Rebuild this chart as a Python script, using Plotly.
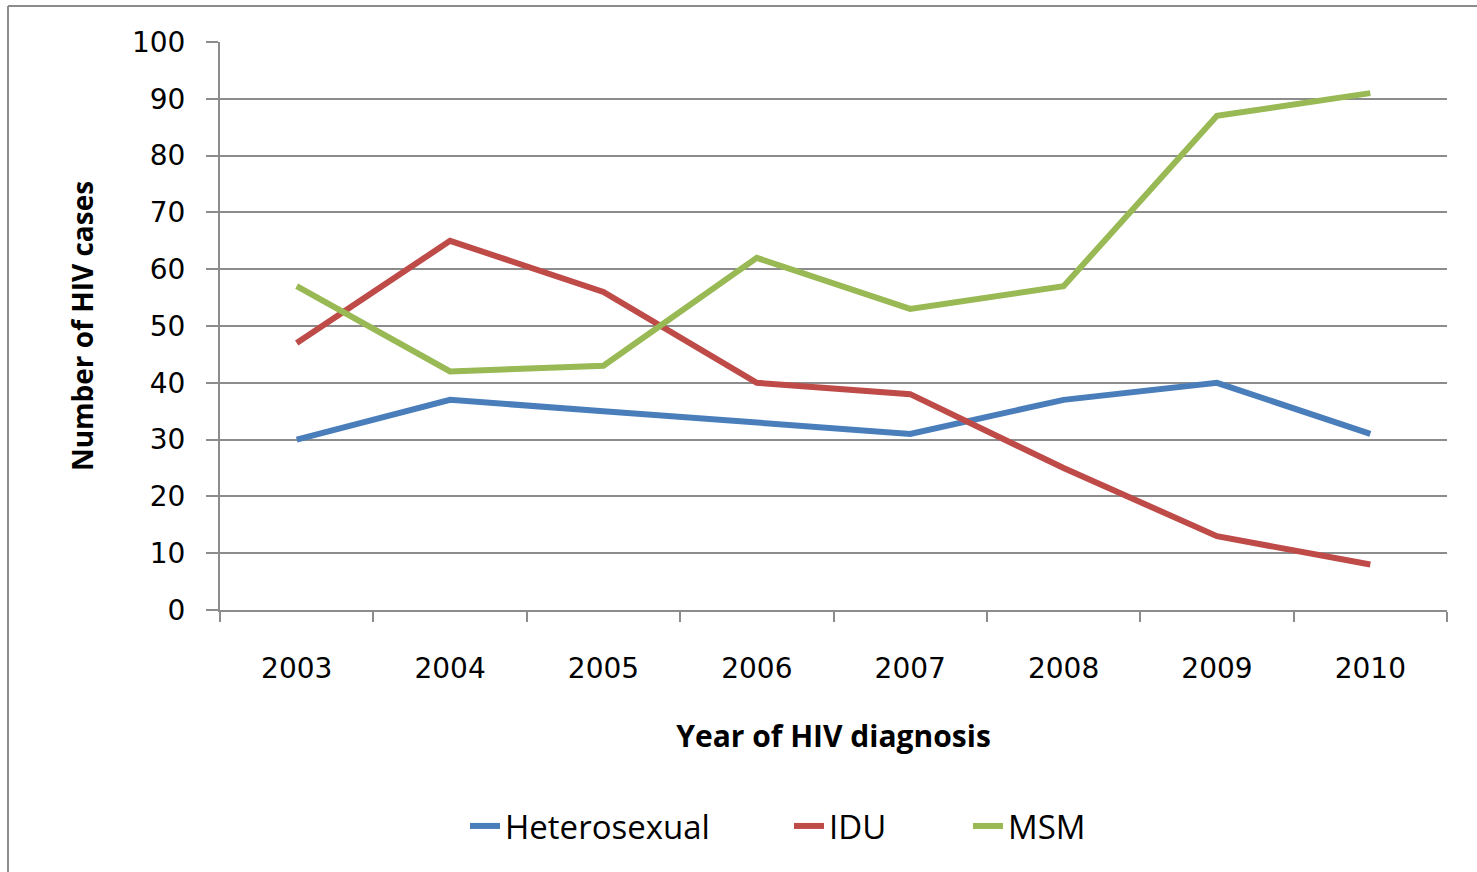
import plotly.graph_objects as go

years = ["2003", "2004", "2005", "2006", "2007", "2008", "2009", "2010"]
heterosexual = [30, 37, 35, 33, 31, 37, 40, 31]
idu = [47, 65, 56, 40, 38, 25, 13, 8]
msm = [57, 42, 43, 62, 53, 57, 87, 91]
y_ticks = list(range(0, 101, 10))

W, H = 1477, 872
L, R, T, B = 220, 30, 42, 262
pw, ph = W - L - R, H - T - B

def px(x):
    return (x - L) / pw

def py(y):
    return (H - B - y) / ph

fig = go.Figure()
series = [("Heterosexual", heterosexual, "#4A7EBB", "legend", 505),
          ("IDU", idu, "#BE4B48", "legend2", 829),
          ("MSM", msm, "#98B954", "legend3", 1008)]
legends = {}
for name, vals, col, lg, tx in series:
    fig.add_trace(go.Scatter(x=years, y=vals, name=name, mode="lines", legend=lg,
                             line=dict(color=col, width=6)))
    legends[lg] = dict(orientation="h", x=px(tx - 40), xanchor="left",
                       y=py(826), yanchor="middle", bgcolor="rgba(0,0,0,0)",
                       font=dict(family="Open Sans", size=33, color="black"))

grid = "#8C8C8C"
fig.update_layout(
    width=W, height=H,
    margin=dict(l=L, r=R, t=T, b=B, autoexpand=False),
    paper_bgcolor="white", plot_bgcolor="white",
    showlegend=True,
    **legends,
    xaxis=dict(type="category", tickson="boundaries", ticks="outside", ticklen=10,
               tickwidth=2, tickcolor=grid, showline=True, linecolor=grid, linewidth=2,
               showgrid=False, range=[-0.5, 7.5],
               tickfont=dict(family="DejaVu Sans", size=28, color="black"),
               ticklabelstandoff=32,
               title=dict(text="<b>Year of HIV diagnosis</b>", standoff=42,
                          font=dict(family="Open Sans", size=30, color="black"))),
    yaxis=dict(range=[0, 100], tickvals=y_ticks, ticks="outside", ticklen=12,
               tickwidth=2, tickcolor=grid, showline=True, linecolor=grid, linewidth=2,
               showgrid=True, gridcolor=grid, gridwidth=2, zeroline=False,
               tickfont=dict(family="DejaVu Sans", size=28, color="black"),
               ticklabelstandoff=15,
               title=dict(text="<b>Number of HIV cases</b>", standoff=30,
                          font=dict(family="Open Sans", size=28, color="black"))),
    shapes=[
        dict(type="line", xref="paper", yref="paper", x0=px(8), x1=px(8), y0=py(6), y1=py(H + 5),
             line=dict(color=grid, width=2)),
        dict(type="line", xref="paper", yref="paper", x0=px(8), x1=px(W + 5), y0=py(6), y1=py(6),
             line=dict(color=grid, width=2)),
    ],
)
fig.write_html("out.html", config={"displayModeBar": False},
               post_script="document.body.style.margin='0';document.body.style.overflow='hidden';")
